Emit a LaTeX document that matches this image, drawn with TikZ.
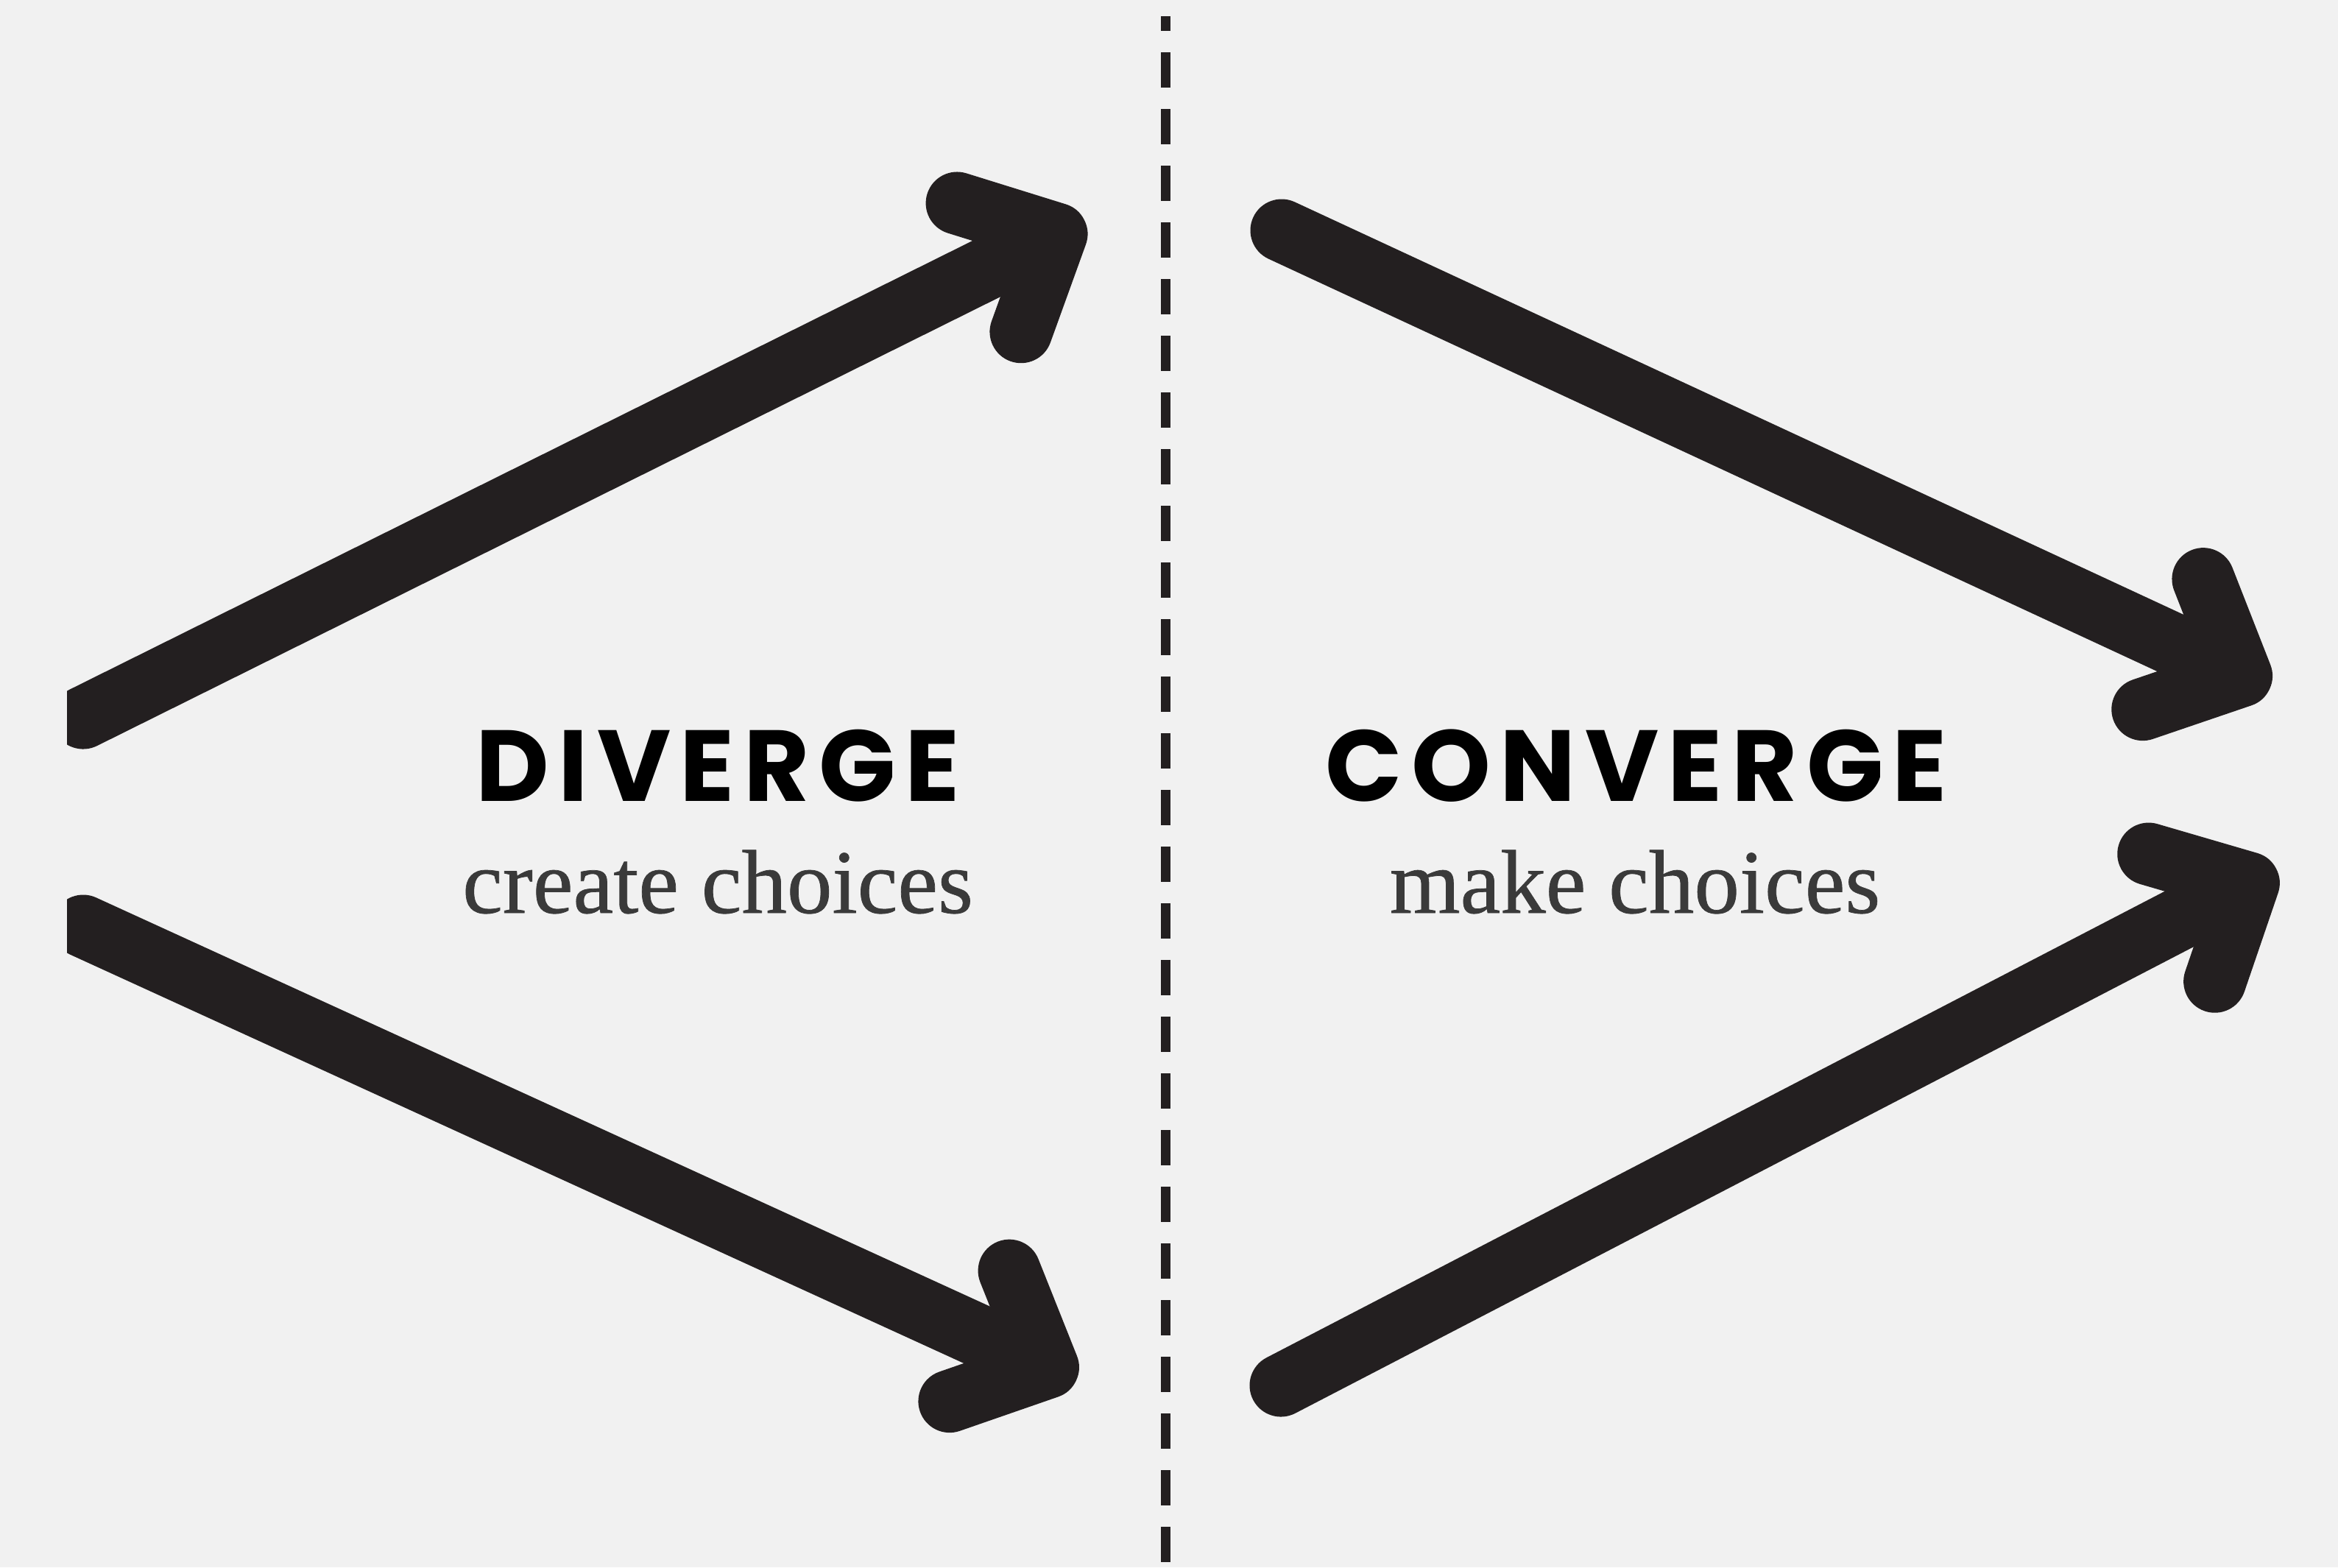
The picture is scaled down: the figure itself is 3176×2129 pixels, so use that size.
\documentclass[tikz,border=0pt]{standalone}
\usepackage{fontspec}
\usetikzlibrary{arrows.meta}
\newfontfamily\headfont{Poppins}[LetterSpace=9]
\newfontfamily\subfont{Liberation Serif}[FakeBold=0.6]
\definecolor{paper}{HTML}{F1F1F1}
\definecolor{ink}{HTML}{231F20}
\definecolor{subgray}{HTML}{3A3A3A}
\tikzset{
x=0.01cm, y=-0.01cm, % one unit is one pixel of the sketch, y going down
bigarrow/.style={ink, line width=0.85cm, line cap=round, line join=round,
  -{Straight Barb[length=1.02cm, width=1.95cm, round]}}, % the thick hand drawn arrows
divider/.style={ink, line width=0.13cm, dash pattern=on 0.48cm off 0.29cm, dash phase=0.28cm},
title/.style={anchor=base, text=black, font=\headfont\bfseries\fontsize{39pt}{39pt}\selectfont},
subtitle/.style={anchor=base, text=subgray, font=\subfont\fontsize{35pt}{35pt}\selectfont},
}
\begin{document}
\begin{tikzpicture}
    \fill[paper] (0,0) rectangle (3176,2129);
    \useasboundingbox (0,0) rectangle (3176,2129);
    % end points of the arrows
    \coordinate (d1s) at (113,975);
    \coordinate (d1e) at (1473,299);
    \coordinate (d2s) at (113,1258);
    \coordinate (d2e) at (1462,1875);
    \coordinate (c1s) at (1741,313);
    \coordinate (c1e) at (3083,936);
    \coordinate (c2s) at (1740,1882);
    \coordinate (c2e) at (3092,1180);
    \coordinate (midtop) at (1583,22);
    \coordinate (midbot) at (1583,2129);
    % labels
    \node[title] (div) at (975,1088) {DIVERGE};
    \node[subtitle] (divsub) at (975,1240) {create choices};
    \node[title] (con) at (2223,1088) {CONVERGE};
    \node[subtitle] (consub) at (2221,1240) {make choices};
    \draw[divider] (midtop) -- (midbot);
    \begin{scope}
        \clip (91,0) rectangle (3176,2129);
        \draw[bigarrow] (d1s) -- (d1e);
        \draw[bigarrow] (d2s) -- (d2e);
        \draw[bigarrow] (c1s) -- (c1e);
        \draw[bigarrow] (c2s) -- (c2e);
    \end{scope}
\end{tikzpicture}
\end{document}
